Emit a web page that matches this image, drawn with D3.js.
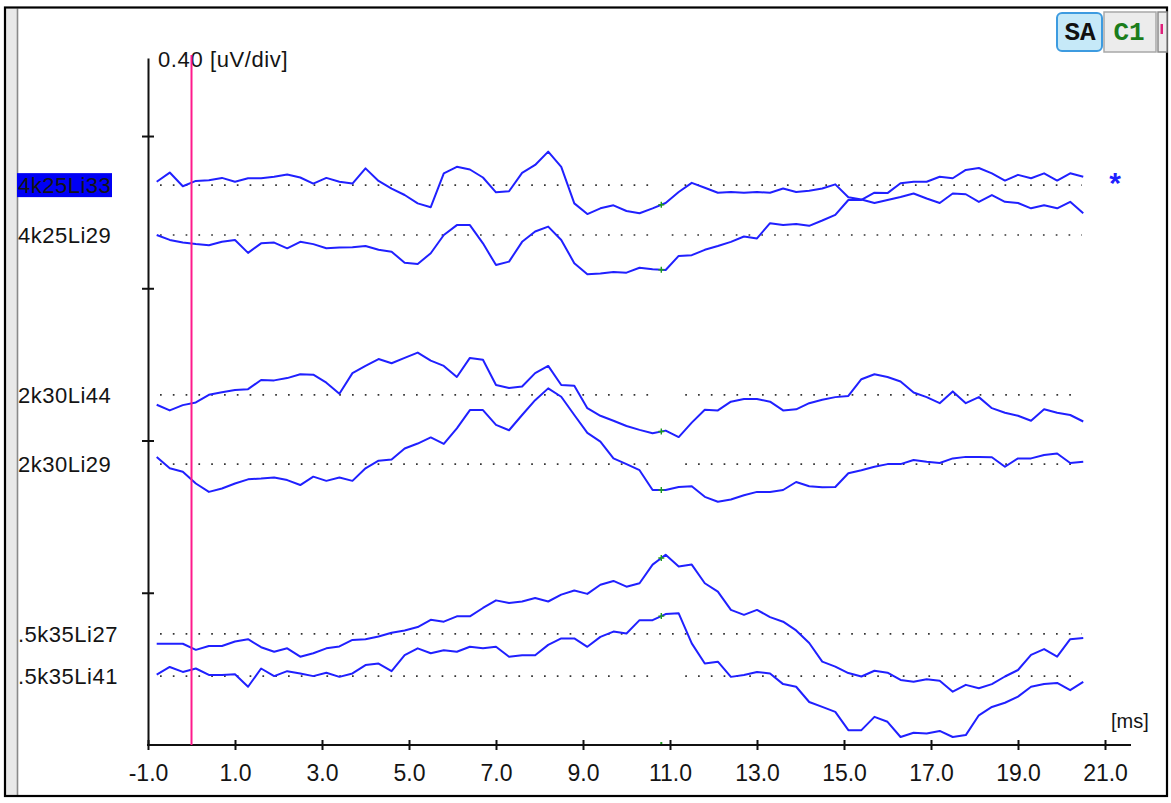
<!DOCTYPE html>
<html>
<head>
<meta charset="utf-8">
<script src="https://cdn.jsdelivr.net/npm/d3@7"></script>
<style>
    html, body { margin: 0; padding: 0; background: #fff; }
    svg { display: block; font-family: "Liberation Sans", Arial, sans-serif; }
</style>
</head>
<body>
<svg id="chart" width="1171" height="803"></svg>
<script>
//----------------------------------------------------------------
// Données : temps d'échantillonnage (ms) et amplitudes (uV)
//----------------------------------------------------------------
const times = [-0.8, -0.5, -0.2, 0.1, 0.4, 0.7, 1.0, 1.3, 1.6, 1.9, 2.2, 2.5, 2.8, 3.1, 3.4, 3.7, 4.0, 4.3,
    4.6, 4.9, 5.2, 5.5, 5.8, 6.1, 6.4, 6.7, 7.0, 7.3, 7.6, 7.9, 8.2, 8.5, 8.8, 9.1, 9.4, 9.7, 10.0, 10.3,
    10.6, 10.9, 11.2, 11.5, 11.8, 12.1, 12.4, 12.7, 13.0, 13.3, 13.6, 13.9, 14.2, 14.5, 14.8, 15.1, 15.4,
    15.7, 16.0, 16.3, 16.6, 16.9, 17.2, 17.5, 17.8, 18.1, 18.4, 18.7, 19.0, 19.3, 19.6, 19.9, 20.2, 20.5];

const channelNames = ["4k25Li33", "4k25Li29", "2k30Li44", "2k30Li29", ".5k35Li27", ".5k35Li41"];
// ligne de base de chaque voie sur l'échelle empilée (uV)
const channelOffsets = [1.471, 1.340, 0.920, 0.738, 0.292, 0.181];
// trou dans les pointillés de base (ms), null si aucun
const baselineGaps = [[10.5, 11.04], [10.5, 11.04], [10.5, 11.35], [10.5, 11.35], null, [10.5, 11.35]];

const trace4k25Li33 = [0.009, 0.033, -0.003, 0.011, 0.013, 0.019, 0.009, 0.018, 0.018, 0.022,
    0.028, 0.020, 0.004, 0.019, 0.009, 0.004, 0.044, 0.011, -0.009, -0.026,
    -0.048, -0.058, 0.031, 0.048, 0.041, 0.020, -0.019, -0.016, 0.032, 0.053,
    0.088, 0.048, -0.048, -0.076, -0.061, -0.053, -0.068, -0.074, -0.061, -0.047,
    -0.018, 0.006, -0.007, -0.020, -0.018, -0.020, -0.018, -0.020, -0.009, -0.018,
    -0.015, -0.009, 0.002, -0.032, -0.038, -0.047, -0.039, -0.031, -0.022, -0.035,
    -0.047, -0.022, -0.024, -0.044, -0.026, -0.044, -0.047, -0.061, -0.053, -0.061,
    -0.044, -0.074];
const trace4k25Li29 = [0, -0.013, -0.020, -0.024, -0.027, -0.018, -0.013, -0.047, -0.022, -0.020,
    -0.035, -0.018, -0.024, -0.035, -0.033, -0.032, -0.029, -0.039, -0.044, -0.073,
    -0.076, -0.048, 0, 0.026, 0.026, -0.022, -0.079, -0.070, -0.018, 0.009,
    0.022, -0.013, -0.074, -0.103, -0.101, -0.097, -0.099, -0.086, -0.090, -0.092,
    -0.055, -0.053, -0.039, -0.029, -0.018, -0.004, -0.009, 0.031, 0.026, 0.029,
    0.024, 0.038, 0.053, 0.092, 0.092, 0.111, 0.110, 0.136, 0.140, 0.140,
    0.153, 0.149, 0.171, 0.176, 0.162, 0.143, 0.158, 0.149, 0.162, 0.143,
    0.162, 0.153];
const trace2k30Li44 = [-0.026, -0.041, -0.027, -0.020, 0, 0.007, 0.013, 0.015, 0.039, 0.038,
    0.044, 0.054, 0.053, 0.032, 0.003, 0.057, 0.076, 0.094, 0.083, 0.097,
    0.111, 0.090, 0.076, 0.047, 0.097, 0.092, 0.026, 0.018, 0.022, 0.057,
    0.076, 0.026, 0.024, -0.035, -0.055, -0.068, -0.082, -0.092, -0.101, -0.094,
    -0.111, -0.073, -0.039, -0.041, -0.018, -0.011, -0.011, -0.018, -0.041, -0.038,
    -0.022, -0.013, -0.006, -0.003, 0.041, 0.054, 0.047, 0.035, 0.006, -0.006,
    -0.022, 0.009, -0.022, -0.006, -0.035, -0.047, -0.055, -0.068, -0.038, -0.047,
    -0.053, -0.070];
const trace2k30Li29 = [0.019, -0.011, -0.020, -0.051, -0.073, -0.064, -0.051, -0.040, -0.038, -0.035,
    -0.042, -0.055, -0.033, -0.044, -0.035, -0.044, -0.011, 0.009, 0.012, 0.041,
    0.054, 0.070, 0.053, 0.094, 0.142, 0.142, 0.103, 0.089, 0.129, 0.168,
    0.199, 0.177, 0.129, 0.082, 0.059, 0.015, 0, -0.016, -0.068, -0.068,
    -0.060, -0.058, -0.086, -0.099, -0.093, -0.082, -0.073, -0.073, -0.068, -0.047,
    -0.058, -0.061, -0.060, -0.024, -0.016, -0.007, 0, 0, 0.011, 0.006,
    0.003, 0.015, 0.019, 0.019, 0.018, -0.007, 0.015, 0.015, 0.024, 0.028,
    0.003, 0.006];
const trace5k35Li27 = [-0.026, -0.026, -0.026, -0.042, -0.032, -0.032, -0.020, -0.014, -0.035, -0.047,
    -0.038, -0.060, -0.051, -0.038, -0.033, -0.016, -0.014, -0.007, 0.003, 0.009,
    0.018, 0.037, 0.032, 0.046, 0.046, 0.068, 0.088, 0.081, 0.085, 0.094,
    0.085, 0.103, 0.114, 0.105, 0.129, 0.139, 0.124, 0.133, 0.182, 0.208,
    0.177, 0.182, 0.133, 0.111, 0.063, 0.050, 0.063, 0.044, 0.032, 0.009,
    -0.024, -0.073, -0.086, -0.103, -0.112, -0.097, -0.102, -0.121, -0.126, -0.119,
    -0.123, -0.152, -0.134, -0.143, -0.132, -0.112, -0.095, -0.055, -0.040, -0.060,
    -0.014, -0.011];
const trace5k35Li41 = [0.004, 0.024, 0.011, 0.020, 0.003, 0.003, 0.005, -0.028, 0.020, 0,
    0.013, 0.007, 0, 0.009, -0.002, 0.007, 0.029, 0.033, 0.013, 0.055,
    0.073, 0.060, 0.068, 0.064, 0.077, 0.073, 0.077, 0.051, 0.055, 0.055,
    0.082, 0.099, 0.099, 0.077, 0.103, 0.117, 0.112, 0.147, 0.147, 0.163,
    0.165, 0.086, 0.033, 0.038, -0.002, 0.003, 0.011, 0.007, -0.021, -0.028,
    -0.068, -0.081, -0.094, -0.142, -0.142, -0.107, -0.120, -0.160, -0.149, -0.151,
    -0.144, -0.160, -0.155, -0.103, -0.081, -0.070, -0.054, -0.028, -0.021, -0.018,
    -0.037, -0.015];
const traces = [trace4k25Li33, trace4k25Li29, trace2k30Li44, trace2k30Li29, trace5k35Li27, trace5k35Li41];

const xTicks = [-1, 1, 3, 5, 7, 9, 11, 13, 15, 17, 19, 21];
const yTicks = [0.4, 0.8, 1.2, 1.6];
const scaleLabel = "0.40 [uV/div]";
const unitLabel = "[ms]";
const cursorTime = 0;
const markerTime = 10.8;
const selectedChannel = 0;
const buttons = ["SA", "C1"];

const BLUE = "#2020ff";
const TEXT = "#141414";


/**
 * Une voie d'enregistrement (une courbe empilée)
 * @property name : le nom affiché à gauche
 * @property values : les amplitudes (uV)
 * @property offset : la ligne de base (uV)
 */
class Channel {
    constructor(name, values, offset, gap) {
        this.name = name;
        this.values = values;
        this.offset = offset;
        this.gap = gap;
    }

    valueAt(t) {
        const i = d3.bisectLeft(times, t);
        if (i <= 0) return this.values[0];
        const k = (t - times[i - 1]) / (times[i] - times[i - 1]);
        return this.values[i - 1] + k * (this.values[i] - this.values[i - 1]);
    }

    drawBaseline(g, x, y) {
        const y0 = y(this.offset);
        const parts = this.gap ? [[-0.724, this.gap[0]], [this.gap[1], 20.47]] : [[-0.724, 20.47]];
        parts.forEach(function (p) {
            g.append("line")
                .attr("x1", x(p[0]))
                .attr("x2", x(p[1]))
                .attr("y1", y0)
                .attr("y2", y0)
                .attr("stroke", "#333")
                .attr("stroke-width", 1.7)
                .attr("stroke-dasharray", "1.7,11.1");
        });
    }

    drawTrace(g, x, y) {
        const off = this.offset;
        const line = d3.line()
            .x((d, i) => x(times[i]))
            .y(d => y(off + d));
        g.append("path")
            .attr("d", line(this.values))
            .attr("fill", "none")
            .attr("stroke", BLUE)
            .attr("stroke-width", 2)
            .attr("stroke-linejoin", "round");
        // petit repère vert
        const mx = x(markerTime), my = y(off + this.valueAt(markerTime));
        g.append("path")
            .attr("d", `M${mx - 3},${my}H${mx + 3}M${mx},${my - 3}V${my + 3}`)
            .attr("stroke", "#1f9a1f")
            .attr("stroke-width", 1.4);
    }

    drawLabel(g, y, selected) {
        const y0 = y(this.offset);
        if (selected) {
            g.append("rect")
                .attr("x", 17).attr("y", y0 - 12)
                .attr("width", 95).attr("height", 24)
                .attr("fill", "#0000f5");
        }
        g.append("text")
            .attr("x", 18)
            .attr("y", y0 + 8)
            .attr("font-size", 22)
            .attr("letter-spacing", 0.5)
            .attr("fill", TEXT)
            .text(this.name);
    }
}


const svg = d3.select("#chart");
const x = d3.scaleLinear().domain([-1, 21]).range([148, 1105]);
const y = d3.scaleLinear().domain([0, 1.805]).range([745, 58]);

// cadre de la fenêtre
svg.append("rect").attr("x", 6).attr("y", 8.5).attr("width", 11).attr("height", 787).attr("fill", "#e9e9e9");
svg.append("line").attr("x1", 17.5).attr("x2", 17.5).attr("y1", 8.5).attr("y2", 795)
    .attr("stroke", "#8a8a8a").attr("stroke-width", 1.6);
svg.append("rect")
    .attr("x", 5).attr("y", 7.5).attr("width", 1162).attr("height", 788.5)
    .attr("fill", "none").attr("stroke", "#000").attr("stroke-width", 2.2);

// boutons en haut à droite
const btn = svg.append("g");
btn.append("rect").attr("x", 1104).attr("y", 12).attr("width", 52).attr("height", 40)
    .attr("fill", "#ececec").attr("stroke", "#a8a8a8").attr("stroke-width", 1.5);
btn.append("rect").attr("x", 1158).attr("y", 12).attr("width", 9).attr("height", 40)
    .attr("fill", "#ececec").attr("stroke", "#8a8a8a").attr("stroke-width", 1.5);
btn.append("rect").attr("x", 1160.5).attr("y", 24).attr("width", 2.5).attr("height", 10).attr("fill", "#e0207a");
btn.append("rect").attr("x", 1057).attr("y", 13).attr("width", 45).attr("height", 38).attr("rx", 5)
    .attr("fill", "#c6e9f8").attr("stroke", "#3d9be0").attr("stroke-width", 2);
btn.selectAll("text.btn")
    .data(buttons)
    .join("text")
    .attr("class", "btn")
    .attr("x", (d, i) => i === 0 ? 1080 : 1129)
    .attr("y", 40)
    .attr("text-anchor", "middle")
    .attr("font-family", "'Liberation Mono', 'DejaVu Sans Mono', monospace")
    .attr("font-weight", "bold")
    .attr("font-size", 26)
    .attr("fill", (d, i) => i === 0 ? "#111" : "#1b7d1b")
    .text(d => d);

// axes
const xAxis = svg.append("g")
    .attr("transform", "translate(0,745)")
    .call(d3.axisBottom(x).tickValues(xTicks).tickFormat(d => d.toFixed(1)).tickSizeOuter(0))
    .attr("font-family", null)
    .attr("font-size", null);
xAxis.select(".domain").remove();
xAxis.append("line")
    .attr("x1", 147).attr("x2", 1131)
    .attr("stroke", "#111").attr("stroke-width", 2);
xAxis.selectAll(".tick line")
    .attr("y1", -5).attr("y2", 5)
    .attr("stroke", "#111").attr("stroke-width", 2);
xAxis.selectAll(".tick text")
    .attr("y", 36).attr("dy", null)
    .attr("font-size", 23)
    .attr("fill", TEXT);

const yAxis = svg.append("g")
    .attr("transform", "translate(148,0)")
    .call(d3.axisLeft(y).tickValues(yTicks).tickFormat("").tickSizeOuter(0));
yAxis.select(".domain").attr("stroke", "#111").attr("stroke-width", 2);
yAxis.selectAll(".tick line")
    .attr("x1", -6).attr("x2", 6)
    .attr("stroke", "#111").attr("stroke-width", 2);

svg.append("text")
    .attr("x", 158).attr("y", 67)
    .attr("font-size", 22).attr("letter-spacing", 0.6)
    .attr("fill", TEXT)
    .text(scaleLabel);
svg.append("text")
    .attr("x", 1111).attr("y", 728)
    .attr("font-size", 20)
    .attr("fill", TEXT)
    .text(unitLabel);

// voies
const channels = channelNames.map((n, i) => new Channel(n, traces[i], channelOffsets[i], baselineGaps[i]));
const gBase = svg.append("g");
const gTrace = svg.append("g");
const gLabel = svg.append("g");
channels.forEach(function (c, i) {
    c.drawBaseline(gBase, x, y);
    c.drawTrace(gTrace, x, y);
    c.drawLabel(gLabel, y, i === selectedChannel);
});

// curseur rose à t = 0
svg.append("line")
    .attr("x1", x(cursorTime)).attr("x2", x(cursorTime))
    .attr("y1", 55).attr("y2", 745)
    .attr("stroke", "#ff1a8c").attr("stroke-width", 2);

// repère vert sur l'axe des temps
svg.append("rect")
    .attr("x", x(markerTime) - 1).attr("y", 742)
    .attr("width", 2).attr("height", 2)
    .attr("fill", "#1f9a1f");

// astérisque de la voie sélectionnée
svg.append("text")
    .attr("x", 1115).attr("y", y(channelOffsets[selectedChannel]) + 8)
    .attr("text-anchor", "middle")
    .attr("font-size", 30).attr("font-weight", "bold")
    .attr("fill", BLUE)
    .text("*");
</script>
</body>
</html>
